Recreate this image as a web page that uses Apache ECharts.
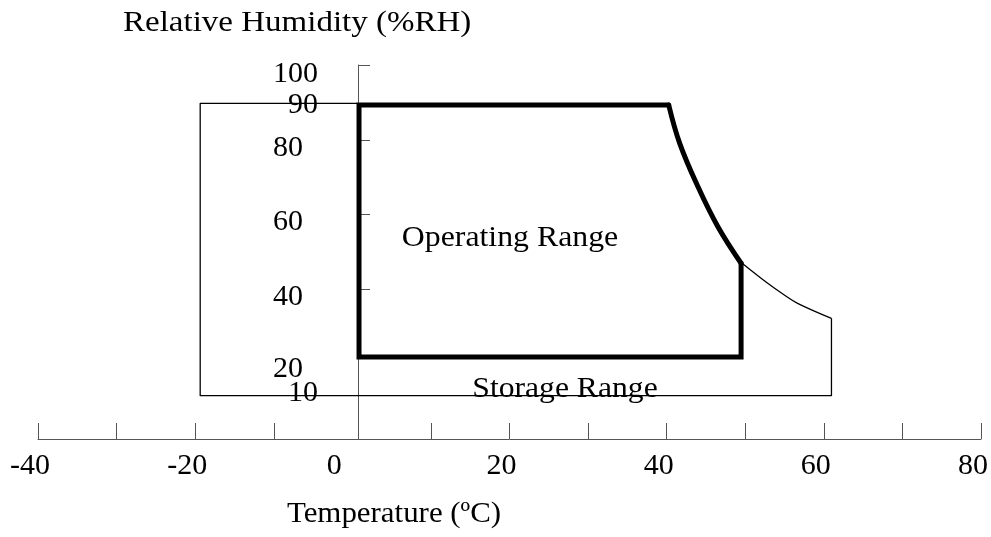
<!DOCTYPE html>
<html>
<head>
<meta charset="utf-8">
<script src="https://cdn.jsdelivr.net/npm/echarts@6/dist/echarts.min.js"></script>
<style>
  html, body { margin: 0; padding: 0; background: #fff; }
  #chart { width: 991px; height: 537px; }
</style>
</head>
<body>
<div id="chart"></div>
<script>
  // ticks and labels
  const tempTicks = [-40, -30, -20, -10, 10, 20, 30, 40, 50, 60, 70, 80];
  const tempLabels = [-40, -20, 0, 20, 40, 60, 80];
  const rhTicks = [21.9, 40, 60, 80, 100];
  const rhLabels = [20, 40, 60, 80, 100];
  const rhExtraLabels = [10, 90];

  // operating range outline (temperature, %RH)
  const operatingEdge = [[49.47, 47.0], [49.47, 21.9], [0.85, 21.9], [0.85, 89.3], [40.26, 89.3]];
  const operatingCurve = [[40.26, 89.3], [41.66, 79.06], [43.98, 67.46], [46.52, 56.76], [49.47, 47.0]];

  // storage range outline
  const storageEdge = [[0.6, 89.76], [-19.36, 89.76], [-19.36, 11.58], [60.97, 11.58], [60.97, 32.27]];
  const storageCurve = [[49.6, 47.0], [52.86, 41.63], [54.97, 38.5], [56.66, 36.28], [60.97, 32.27]];

  const FONT = 'Liberation Serif';
  const axisGrey = '#555';
  const font30 = '30px "' + FONT + '"';

  const chart = echarts.init(document.getElementById('chart'));

  const thin = { color: '#000', width: 1.3 };
  const thick = { color: '#000', width: 5, join: 'miter', cap: 'round' };
  const txt = (pad) => ({ fontFamily: FONT, fontSize: 30, color: '#000', padding: pad });

  chart.setOption({
    animation: false,
    backgroundColor: '#fff',
    grid: { left: 38, right: 7, top: 65, bottom: 98 },
    xAxis: {
      type: 'value',
      min: -40,
      max: 80,
      interval: 10,
      splitLine: { show: false },
      axisLine: { onZero: false, lineStyle: { color: axisGrey, width: 1 } },
      axisTick: {
        inside: true,
        length: 16,
        customValues: tempTicks,
        lineStyle: { color: axisGrey, width: 1 }
      },
      axisLabel: {
        customValues: tempLabels,
        hideOverlap: false,
        margin: 12,
        formatter: (v) => (v === 0 ? '{z|0}' : '{n|' + v + '}'),
        rich: { n: txt([0, 16, 0, 0]), z: txt([0, 36, 0, 0]) }
      }
    },
    yAxis: [
      {
        type: 'value',
        min: 0,
        max: 100,
        interval: 10,
        offset: -320,
        splitLine: { show: false },
        axisLine: { show: true, onZero: false, lineStyle: { color: axisGrey, width: 1 } },
        axisTick: {
          show: true,
          inside: true,
          length: 12,
          customValues: rhTicks,
          lineStyle: { color: axisGrey, width: 1 }
        },
        axisLabel: {
          customValues: rhLabels,
          hideOverlap: false,
          margin: 40,
          formatter: (v) => (v === 100 ? '{a|100}' : v === 20 ? '{e|20}' : '{b|' + v + '}'),
          rich: { a: txt([18, 0, 0, 0]), b: txt([16, 15, 0, 0]), e: txt([10, 15, 0, 0]) }
        }
      },
      {
        // second set of RH labels (10 and 90) placed on the same scale
        type: 'value',
        min: 0,
        max: 100,
        interval: 10,
        position: 'left',
        offset: -320,
        splitLine: { show: false },
        axisLine: { show: false, onZero: false },
        axisTick: { show: false },
        axisLabel: {
          customValues: rhExtraLabels,
          hideOverlap: false,
          margin: 40,
          formatter: (v) => (v === 90 ? '{c|90}' : '{d|10}'),
          rich: { c: txt([5, 0, 0, 0]), d: txt([0, 0, 16, 0]) }
        }
      }
    ],
    series: [
      { type: 'line', data: storageEdge, symbol: 'none', silent: true, lineStyle: thin },
      { type: 'line', data: storageCurve, symbol: 'none', smooth: 0.4, silent: true, lineStyle: thin },
      { type: 'line', data: operatingEdge, symbol: 'none', silent: true, lineStyle: thick },
      { type: 'line', data: operatingCurve, symbol: 'none', smooth: 0.4, silent: true, lineStyle: thick }
    ],
    graphic: [
      {
        type: 'text', x: 123, y: 23, scaleX: 1.1,
        style: { text: 'Relative Humidity (%RH)', font: font30, fill: '#000', textAlign: 'left', textVerticalAlign: 'middle' }
      },
      {
        type: 'text', x: 394, y: 514, scaleX: 1.03,
        style: { text: 'Temperature (\u00BAC)', font: font30, fill: '#000', textAlign: 'center', textVerticalAlign: 'middle' }
      },
      {
        type: 'text', x: 510, y: 238, scaleX: 1.06,
        style: { text: 'Operating Range', font: font30, fill: '#000', textAlign: 'center', textVerticalAlign: 'middle' }
      },
      {
        type: 'text', x: 565, y: 389, z: -1, scaleX: 1.055,
        style: { text: 'Storage Range', font: font30, fill: '#000', textAlign: 'center', textVerticalAlign: 'middle' }
      }
    ]
  });
</script>
</body>
</html>
